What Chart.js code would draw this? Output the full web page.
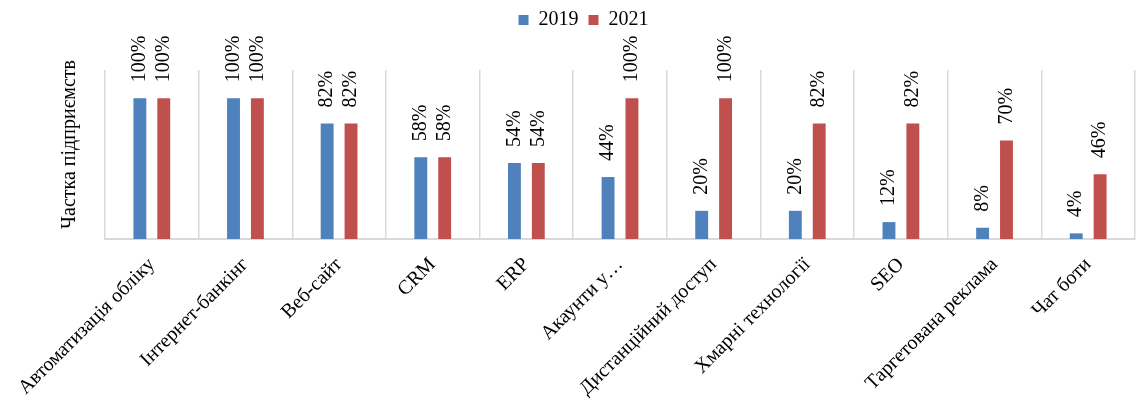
<!DOCTYPE html>
<html>
<head>
<meta charset="utf-8">
<script src="https://cdn.jsdelivr.net/npm/chart.js@4"></script>
<style>
  html, body { margin: 0; padding: 0; background: #fff; }
  #wrap { width: 1140px; height: 405px; }
</style>
</head>
<body>
<div id="wrap"><canvas id="chart"></canvas></div>
<script>
"use strict";

// Дані
const categories = ["Автоматизація обліку", "Інтернет-банкінг", "Веб-сайт", "CRM", "ERP",
    "Акаунти у…", "Дистанційний доступ", "Хмарні технології", "SEO", "Таргетована реклама", "Чат боти"];
const values2019 = [100, 100, 82, 58, 54, 44, 20, 20, 12, 8, 4];
const values2021 = [100, 100, 82, 58, 54, 100, 100, 82, 82, 70, 46];
const seriesNames = ["2019", "2021"];
const yTitle = "Частка підприємств";

const fontFamily = "'Liberation Serif', 'Times New Roman', serif";

//Підписи значень над стовпцями (вертикально)
const valueLabels = {
    id: "valueLabels",
    afterDatasetsDraw(chart){
        const ctx = chart.ctx;
        ctx.save();
        ctx.font = "20px " + fontFamily;
        ctx.fillStyle = "#000";
        ctx.textAlign = "left";
        ctx.textBaseline = "middle";
        chart.data.datasets.forEach((ds, i) => {
            const meta = chart.getDatasetMeta(i);
            meta.data.forEach((bar, j) => {
                ctx.save();
                ctx.translate(bar.x, bar.y - 16);
                ctx.rotate(-Math.PI / 2);
                ctx.fillText(ds.data[j] + "%", 0, 0);
                ctx.restore();
            });
        });
        // назва осі Y, трохи вище центру
        const area = chart.chartArea;
        ctx.save();
        ctx.translate(area.left - 35, (area.top + area.bottom) / 2 - 10);
        ctx.rotate(-Math.PI / 2);
        ctx.textAlign = "center";
        ctx.fillText(yTitle, 0, 0);
        ctx.restore();
        ctx.restore();
    }
};

//Місце під легендою + зсув легенди вправо
const legendMargin = {
    id: "legendMargin",
    beforeInit(chart){
        const fit = chart.legend.fit;
        chart.legend.fit = function(){
            fit.bind(chart.legend)();
            this.height += 30;
        };
    },
    afterLayout(chart){
        chart.legend.left += 16;
        chart.legend.right += 16;
    }
};

new Chart(document.getElementById("chart"), {
    type: "bar",
    data: {
        labels: categories,
        datasets: [{
            label: seriesNames[0],
            data: values2019,
            backgroundColor: "#4F81BD",
            categoryPercentage: 0.51,
            barPercentage: 0.54
        }, {
            label: seriesNames[1],
            data: values2021,
            backgroundColor: "#C0504D",
            categoryPercentage: 0.51,
            barPercentage: 0.54
        }]
    },
    options: {
        responsive: true,
        maintainAspectRatio: false,
        animation: false,
        layout: { padding: { left: 0, right: 5, top: 0, bottom: 0 } },
        plugins: {
            legend: {
                position: "top",
                labels: {
                    boxWidth: 10,
                    boxHeight: 10,
                    padding: 10,
                    color: "#000",
                    font: { family: fontFamily, size: 20 }
                }
            },
            tooltip: { enabled: false }
        },
        scales: {
            x: {
                grid: { offset: true, color: "#d9d9d9", lineWidth: 1.5, drawTicks: false },
                border: { color: "#d9d9d9", width: 2 },
                ticks: {
                    color: "#000",
                    maxRotation: 45,
                    minRotation: 45,
                    padding: 14,
                    autoSkip: false,
                    font: { family: fontFamily, size: 20 }
                },
                afterFit(scale){ scale.height = 166; }
            },
            y: {
                min: 0,
                max: 120,
                grid: { display: false },
                border: { display: false },
                ticks: { display: false },
                afterFit(scale){ scale.width = 105; }
            }
        }
    },
    plugins: [valueLabels, legendMargin]
});
</script>
</body>
</html>
